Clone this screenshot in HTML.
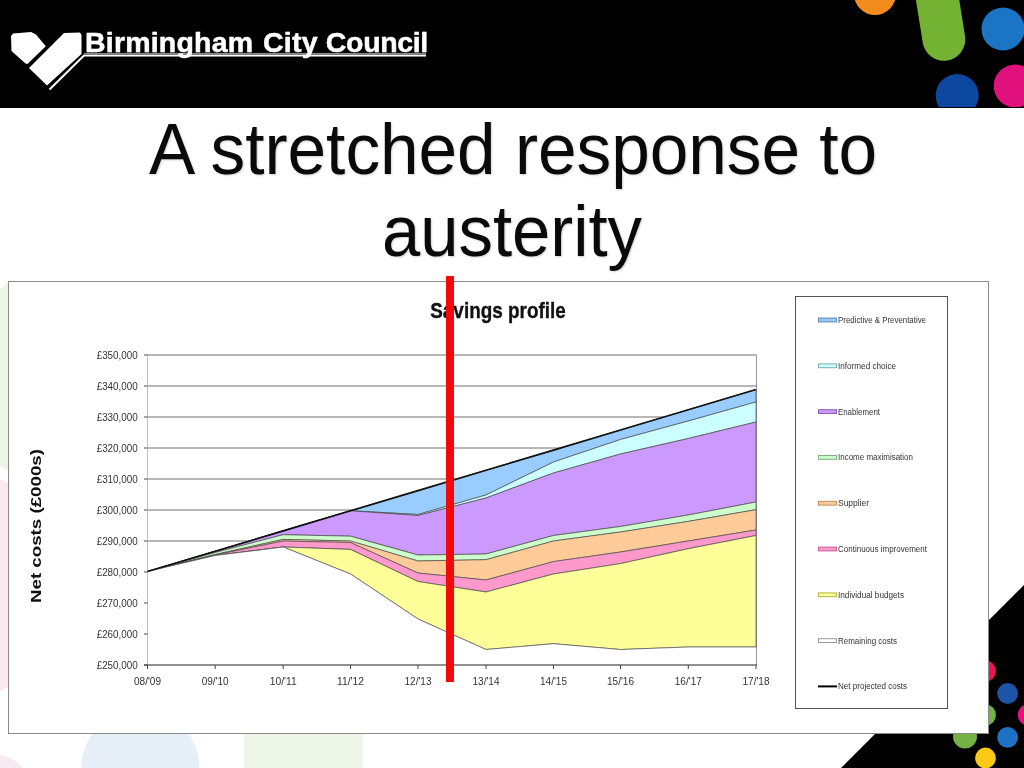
<!DOCTYPE html>
<html lang="en">
<head>
<meta charset="utf-8">
<title>A stretched response to austerity</title>
<style>
html,body{margin:0;padding:0;background:#fff;}
body{width:1024px;height:768px;overflow:hidden;position:relative;font-family:"Liberation Sans",Arial,sans-serif;}
#bg{position:absolute;left:0;top:0;width:1024px;height:768px;}
#header{position:absolute;left:0;top:0;width:1024px;height:107.5px;overflow:hidden;background:#000;}
#brand{position:absolute;left:85px;top:25px;-webkit-text-stroke:0.5px #fff;color:#fff;font-weight:bold;font-size:28.5px;line-height:34px;white-space:nowrap;transform-origin:0 0;letter-spacing:0.2px;}
h1{position:absolute;left:0;top:112px;width:1024px;margin:0;text-align:center;font-weight:normal;font-size:72px;line-height:82px;color:#0a0a0a;text-shadow:1px 1px 2px rgba(0,0,0,0.18);}
#l1{position:absolute;left:0.6px;width:1024px;top:-4.5px;transform:scaleX(0.9625);transform-origin:50% 50%;}
#l2{position:absolute;left:0;width:1024px;top:77.5px;transform:scaleX(0.955);transform-origin:50% 50%;}
#panel{position:absolute;left:8px;top:281px;width:979px;height:451px;background:#fff;border:1px solid #8a8a8a;box-sizing:content-box;}
#chart{position:absolute;left:0;top:0;width:1024px;height:768px;}
#chart text{font-family:"Liberation Sans",Arial,sans-serif;}
#redline{position:absolute;left:446px;top:276px;width:7.5px;height:405.5px;background:#f20a0a;}
</style>
</head>
<body>
<svg id="bg" width="1024" height="768" viewBox="0 0 1024 768">
  <!-- faint background shapes -->
  <g opacity="1">
    <path d="M0 290 L9 280 L9 472 L0 466 Z" fill="#eef5e6"/>
    <circle cx="-40" cy="585" r="113" fill="#f8e9ee"/>
    <circle cx="140.5" cy="768" r="59" fill="#e6eef7"/>
    <rect x="244" y="600" width="119" height="300" fill="#eef5e9"/>
    <circle cx="-6" cy="790" r="36" fill="#f7eaf3"/>
  </g>
  <!-- bottom-right black triangle -->
  <polygon points="1024,585 1024,768 841,768" fill="#000"/>
  <circle cx="985.5" cy="671" r="10.5" fill="#e8174f"/>
  <circle cx="1007.6" cy="693.5" r="10.4" fill="#1d55a8"/>
  <circle cx="1028" cy="715" r="10.4" fill="#e3127c"/>
  <circle cx="985.5" cy="715" r="10.5" fill="#73b243"/>
  <circle cx="1007.6" cy="737.3" r="10.4" fill="#1d72c4"/>
  <circle cx="965" cy="736.5" r="12" fill="#73b243"/>
  <circle cx="985.5" cy="758" r="10.4" fill="#fbc916"/>
</svg>

<div id="header">
  <svg width="1024" height="107" viewBox="0 0 1024 107" style="position:absolute;left:0;top:0">
    <!-- dots top right -->
    <circle cx="875" cy="-6" r="21" fill="#f28c1c"/>
    <path d="M934.4 -20 L943.9 39.4" stroke="#73b233" stroke-width="42.8" stroke-linecap="round"/>
    <circle cx="1003" cy="29" r="21.5" fill="#1c74c4"/>
    <circle cx="957.2" cy="95.5" r="21.5" fill="#0c47a0"/>
    <circle cx="1015.2" cy="86" r="21.5" fill="#e0107c"/>
    <!-- logo -->
    <polygon points="11,36 13,33.5 31,32 36,34.5 45.8,46.2 27.5,64 25.5,63.5 11.5,51" fill="#fff"/>
    <polygon points="64,33 80,32.5 81.5,35 81.5,54 47,85.5 29,68 " fill="#fff"/>
    <path d="M49.5 89.5 L84 55.6 L426 55.6" stroke="#fff" stroke-width="2" fill="none"/><path d="M84 53.4 L426 53.4" stroke="#999" stroke-width="1" fill="none"/>
  </svg>
  <div id="brand">Birmingham<span style="display:inline-block;width:1.7px"></span> City <span style="letter-spacing:-0.35px">Council</span></div>
</div>

<h1><span id="l1">A stretched response to</span><span id="l2">austerity</span></h1>

<div id="panel"></div>

<svg id="chart" width="1024" height="768" viewBox="0 0 1024 768">
<g id="grid" stroke="#707070" stroke-width="1.15">
<line x1="147" y1="355.0" x2="756.5" y2="355.0"/>
<line x1="147" y1="386.0" x2="756.5" y2="386.0"/>
<line x1="147" y1="417.0" x2="756.5" y2="417.0"/>
<line x1="147" y1="448.0" x2="756.5" y2="448.0"/>
<line x1="147" y1="479.0" x2="756.5" y2="479.0"/>
<line x1="147" y1="510.0" x2="756.5" y2="510.0"/>
<line x1="147" y1="541.0" x2="756.5" y2="541.0"/>
<line x1="147" y1="572.0" x2="756.5" y2="572.0"/>
<line x1="147" y1="603.0" x2="756.5" y2="603.0"/>
<line x1="147" y1="634.0" x2="756.5" y2="634.0"/>
</g>
<line x1="756.5" y1="355" x2="756.5" y2="665" stroke="#9a9a9a" stroke-width="1"/>
<line x1="147.5" y1="355" x2="147.5" y2="665" stroke="#c8c8c8" stroke-width="1"/>
<polygon points="147.5,571.5 215.2,551.3 283.2,530.9 350.5,510.8 418,490.6 486,470.3 553.5,450.1 620.5,430.0 688.3,409.7 756,389.5 756,402 688.3,421 620.5,439.5 553.5,462 486,495 418,514.5 350.5,510.8 283.2,530.9 215.2,551.3 147.5,571.5" fill="#99ccff" stroke="#4a4a4a" stroke-width="0.7" stroke-linejoin="round"/>
<polygon points="147.5,571.5 215.2,551.3 283.2,530.9 350.5,510.8 418,514.5 486,495 553.5,462 620.5,439.5 688.3,421 756,402 756,422 688.3,438.5 620.5,454 553.5,473 486,498 418,515.5 350.5,510.8 283.2,530.9 215.2,551.3 147.5,571.5" fill="#ccffff" stroke="#4a4a4a" stroke-width="0.7" stroke-linejoin="round"/>
<polygon points="147.5,571.5 215.2,551.3 283.2,530.9 350.5,510.8 418,515.5 486,498 553.5,473 620.5,454 688.3,438.5 756,422 756,502 688.3,515 620.5,526.5 553.5,535.5 486,554 418,555 350.5,536.2 283.2,534.7 215.2,552.5 147.5,571.5" fill="#cc99ff" stroke="#4a4a4a" stroke-width="0.7" stroke-linejoin="round"/>
<polygon points="147.5,571.5 215.2,552.5 283.2,534.7 350.5,536.2 418,555 486,554 553.5,535.5 620.5,526.5 688.3,515 756,502 756,509.7 688.3,521.4 620.5,532 553.5,541 486,559.7 418,561 350.5,541 283.2,539.4 215.2,554.5 147.5,571.5" fill="#ccffcc" stroke="#4a4a4a" stroke-width="0.7" stroke-linejoin="round"/>
<polygon points="147.5,571.5 215.2,554.5 283.2,539.4 350.5,541 418,561 486,559.7 553.5,541 620.5,532 688.3,521.4 756,509.7 756,530 688.3,541 620.5,552 553.5,561.6 486,580 418,573 350.5,542.5 283.2,541 215.2,555 147.5,571.5" fill="#ffcc99" stroke="#4a4a4a" stroke-width="0.7" stroke-linejoin="round"/>
<polygon points="147.5,571.5 215.2,555 283.2,541 350.5,542.5 418,573 486,580 553.5,561.6 620.5,552 688.3,541 756,530 756,535.5 688.3,548.7 620.5,563.6 553.5,574 486,592 418,581.5 350.5,549.4 283.2,547 215.2,555.5 147.5,571.5" fill="#ff99cc" stroke="#4a4a4a" stroke-width="0.7" stroke-linejoin="round"/>
<polygon points="147.5,571.5 215.2,555.5 283.2,547 350.5,549.4 418,581.5 486,592 553.5,574 620.5,563.6 688.3,548.7 756,535.5 756,647 688.3,647 620.5,649.5 553.5,643.7 486,649.5 418,619 350.5,574 283.2,547 215.2,555.5 147.5,571.5" fill="#ffff99" stroke="#4a4a4a" stroke-width="0.7" stroke-linejoin="round"/>
<polygon points="147.5,571.5 215.2,555.5 283.2,547 350.5,574 418,619 486,649.5 553.5,643.7 620.5,649.5 688.3,647 756,647 756,665 147.5,665" fill="#ffffff"/>
<polyline points="147.5,571.5 215.2,555.5 283.2,547 350.5,574 418,619 486,649.5 553.5,643.7 620.5,649.5 688.3,647 756,647" fill="none" stroke="#555" stroke-width="0.7" stroke-linejoin="round"/>
<line x1="147.5" y1="355" x2="147.5" y2="665" stroke="#c0c0c0" stroke-width="1"/>
<polyline points="147.5,571.5 215.2,551.3 283.2,530.9 350.5,510.8 418,490.6 486,470.3 553.5,450.1 620.5,430.0 688.3,409.7 756,389.5" fill="none" stroke="#111" stroke-width="1.7"/>
<line x1="144" y1="665" x2="757" y2="665" stroke="#222" stroke-width="1.1"/>
<g stroke="#444" stroke-width="1">
<line x1="147.5" y1="665" x2="147.5" y2="669"/>
<line x1="215.2" y1="665" x2="215.2" y2="669"/>
<line x1="283.2" y1="665" x2="283.2" y2="669"/>
<line x1="350.5" y1="665" x2="350.5" y2="669"/>
<line x1="418.0" y1="665" x2="418.0" y2="669"/>
<line x1="486.0" y1="665" x2="486.0" y2="669"/>
<line x1="553.5" y1="665" x2="553.5" y2="669"/>
<line x1="620.5" y1="665" x2="620.5" y2="669"/>
<line x1="688.3" y1="665" x2="688.3" y2="669"/>
<line x1="756.0" y1="665" x2="756.0" y2="669"/>
<line x1="144" y1="355.0" x2="147.5" y2="355.0"/>
<line x1="144" y1="386.0" x2="147.5" y2="386.0"/>
<line x1="144" y1="417.0" x2="147.5" y2="417.0"/>
<line x1="144" y1="448.0" x2="147.5" y2="448.0"/>
<line x1="144" y1="479.0" x2="147.5" y2="479.0"/>
<line x1="144" y1="510.0" x2="147.5" y2="510.0"/>
<line x1="144" y1="541.0" x2="147.5" y2="541.0"/>
<line x1="144" y1="572.0" x2="147.5" y2="572.0"/>
<line x1="144" y1="603.0" x2="147.5" y2="603.0"/>
<line x1="144" y1="634.0" x2="147.5" y2="634.0"/>
<line x1="144" y1="665.0" x2="147.5" y2="665.0"/>
</g>
<g font-size="10" fill="#333" text-anchor="end" textLength="0">
<text x="137.7" y="359.3" textLength="41" lengthAdjust="spacingAndGlyphs">£350,000</text>
<text x="137.7" y="390.3" textLength="41" lengthAdjust="spacingAndGlyphs">£340,000</text>
<text x="137.7" y="421.3" textLength="41" lengthAdjust="spacingAndGlyphs">£330,000</text>
<text x="137.7" y="452.3" textLength="41" lengthAdjust="spacingAndGlyphs">£320,000</text>
<text x="137.7" y="483.3" textLength="41" lengthAdjust="spacingAndGlyphs">£310,000</text>
<text x="137.7" y="514.3" textLength="41" lengthAdjust="spacingAndGlyphs">£300,000</text>
<text x="137.7" y="545.3" textLength="41" lengthAdjust="spacingAndGlyphs">£290,000</text>
<text x="137.7" y="576.3" textLength="41" lengthAdjust="spacingAndGlyphs">£280,000</text>
<text x="137.7" y="607.3" textLength="41" lengthAdjust="spacingAndGlyphs">£270,000</text>
<text x="137.7" y="638.3" textLength="41" lengthAdjust="spacingAndGlyphs">£260,000</text>
<text x="137.7" y="669.3" textLength="41" lengthAdjust="spacingAndGlyphs">£250,000</text>
</g>
<g font-size="10.5" fill="#333" text-anchor="middle">
<text x="147.5" y="685" textLength="27" lengthAdjust="spacingAndGlyphs">08/'09</text>
<text x="215.2" y="685" textLength="27" lengthAdjust="spacingAndGlyphs">09/'10</text>
<text x="283.2" y="685" textLength="27" lengthAdjust="spacingAndGlyphs">10/'11</text>
<text x="350.5" y="685" textLength="27" lengthAdjust="spacingAndGlyphs">11/'12</text>
<text x="418.0" y="685" textLength="27" lengthAdjust="spacingAndGlyphs">12/'13</text>
<text x="486.0" y="685" textLength="27" lengthAdjust="spacingAndGlyphs">13/'14</text>
<text x="553.5" y="685" textLength="27" lengthAdjust="spacingAndGlyphs">14/'15</text>
<text x="620.5" y="685" textLength="27" lengthAdjust="spacingAndGlyphs">15/'16</text>
<text x="688.3" y="685" textLength="27" lengthAdjust="spacingAndGlyphs">16/'17</text>
<text x="756.0" y="685" textLength="27" lengthAdjust="spacingAndGlyphs">17/'18</text>
</g>
<text x="498" y="317.6" font-size="22.5" font-weight="bold" fill="#111" stroke="#111" stroke-width="0.35" text-anchor="middle" textLength="135.5" lengthAdjust="spacingAndGlyphs">Savings profile</text>
<text transform="translate(41.3,526) rotate(-90)" font-size="15.5" font-weight="bold" fill="#111" text-anchor="middle" textLength="154" lengthAdjust="spacingAndGlyphs">Net costs  (£000s)</text>
<rect x="795.5" y="296.5" width="152" height="412" fill="#fff" stroke="#555" stroke-width="1"/>
<rect x="818.5" y="318.1" width="18" height="3.8" fill="#99ccff" stroke="#5f86b8" stroke-width="1"/>
<text x="838" y="323.0" font-size="8.5" fill="#333" textLength="88" lengthAdjust="spacingAndGlyphs">Predictive &amp; Preventative</text>
<rect x="818.5" y="363.9" width="18" height="3.8" fill="#ccffff" stroke="#79aeb0" stroke-width="1"/>
<text x="838" y="368.8" font-size="8.5" fill="#333" textLength="58" lengthAdjust="spacingAndGlyphs">Informed choice</text>
<rect x="818.5" y="409.7" width="18" height="3.8" fill="#cc99ff" stroke="#8a62b8" stroke-width="1"/>
<text x="838" y="414.6" font-size="8.5" fill="#333" textLength="42" lengthAdjust="spacingAndGlyphs">Enablement</text>
<rect x="818.5" y="455.5" width="18" height="3.8" fill="#ccffcc" stroke="#7fb082" stroke-width="1"/>
<text x="838" y="460.4" font-size="8.5" fill="#333" textLength="75" lengthAdjust="spacingAndGlyphs">Income maximisation</text>
<rect x="818.5" y="501.3" width="18" height="3.8" fill="#ffcc99" stroke="#c48f60" stroke-width="1"/>
<text x="838" y="506.2" font-size="8.5" fill="#333" textLength="31" lengthAdjust="spacingAndGlyphs">Supplier</text>
<rect x="818.5" y="547.1" width="18" height="3.8" fill="#ff99cc" stroke="#cc5f98" stroke-width="1"/>
<text x="838" y="552.0" font-size="8.5" fill="#333" textLength="89" lengthAdjust="spacingAndGlyphs">Continuous improvement</text>
<rect x="818.5" y="592.9" width="18" height="3.8" fill="#ffff99" stroke="#b5b548" stroke-width="1"/>
<text x="838" y="597.8" font-size="8.5" fill="#333" textLength="66" lengthAdjust="spacingAndGlyphs">Individual budgets</text>
<rect x="818.5" y="638.7" width="18" height="3.8" fill="#ffffff" stroke="#9a9a9a" stroke-width="1"/>
<text x="838" y="643.6" font-size="8.5" fill="#333" textLength="59" lengthAdjust="spacingAndGlyphs">Remaining costs</text>
<line x1="818" y1="686.4" x2="837" y2="686.4" stroke="#000" stroke-width="2"/>
<text x="838" y="689.4" font-size="8.5" fill="#333" textLength="69" lengthAdjust="spacingAndGlyphs">Net projected costs</text>
</svg>

<div id="redline"></div>
</body>
</html>
